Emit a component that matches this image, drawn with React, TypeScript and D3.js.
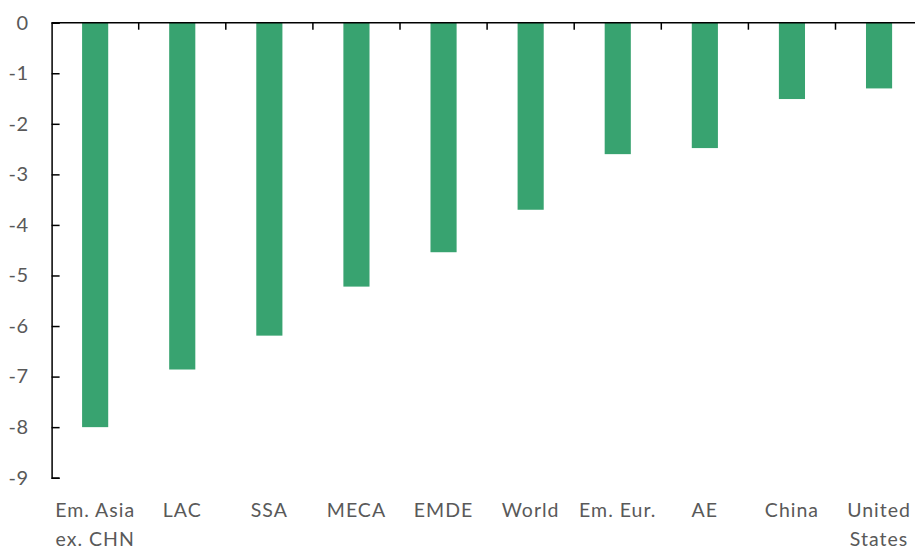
import * as d3 from "d3";
import { useEffect, useRef } from "react";

const categories = ["Em. Asia ex. CHN", "LAC", "SSA", "MECA", "EMDE", "World", "Em. Eur.", "AE", "China", "United States"];
const labelLines = [["Em. Asia", "ex. CHN"], ["LAC"], ["SSA"], ["MECA"], ["EMDE"], ["World"], ["Em. Eur."], ["AE"], ["China"], ["United", "States"]];
const values = [-8.0, -6.86, -6.19, -5.22, -4.54, -3.7, -2.6, -2.48, -1.51, -1.3];
const yTicks = [0, -1, -2, -3, -4, -5, -6, -7, -8, -9];

const width = 915;
const height = 548;
const font = "Lato, 'Open Sans', sans-serif";

export default function App() {
  const svgRef = useRef<SVGSVGElement>(null);

  useEffect(() => {
    document.body.style.margin = "0";
    if (!svgRef.current) return;
    const svg = d3.select(svgRef.current);
    svg.selectAll("*").remove();

    const x = d3.scaleBand()
      .domain(categories)
      .range([51.6, 922.6])
      .paddingInner(0.7)
      .paddingOuter(0.35);

    const y = d3.scaleLinear()
      .domain([0, -9])
      .range([22.7, 477.7]);

    // bars
    svg.append("g")
      .selectAll("rect")
      .data(values)
      .enter()
      .append("rect")
      .attr("x", (_, i) => x(categories[i])!)
      .attr("y", y(0))
      .attr("width", x.bandwidth())
      .attr("height", (d) => y(d) - y(0))
      .attr("fill", "#38a370");

    // y axis, ticks pointing into the plot
    const yAxis = svg.append("g")
      .attr("transform", `translate(${x.range()[0]},0)`)
      .call(d3.axisLeft(y).tickValues(yTicks).tickSize(-8).tickPadding(23).tickFormat((d) => String(d)));
    yAxis.select(".domain").attr("stroke", "#000").attr("stroke-width", 1.5);
    yAxis.selectAll(".tick line").attr("stroke", "#000").attr("stroke-width", 1.5);
    yAxis.selectAll(".tick text")
      .attr("fill", "#595959")
      .style("font-family", font)
      .style("font-size", "20px")
      .style("letter-spacing", "0.5px");

    // x axis at zero with boundary ticks
    const step = x.step();
    const x0 = x.range()[0];
    const bounds = d3.range(categories.length + 1).map((i) => x0 + i * step);
    const xAxis = svg.append("g");
    xAxis.append("line")
      .attr("x1", x0)
      .attr("x2", x.range()[1])
      .attr("y1", y(0))
      .attr("y2", y(0))
      .attr("stroke", "#000")
      .attr("stroke-width", 1.5);
    xAxis.selectAll(".bt")
      .data(bounds.slice(1))
      .enter()
      .append("line")
      .attr("x1", (d) => d)
      .attr("x2", (d) => d)
      .attr("y1", y(0))
      .attr("y2", y(0) + 7)
      .attr("stroke", "#000")
      .attr("stroke-width", 1.5);

    // category labels
    const labels = svg.append("g")
      .selectAll("text")
      .data(categories)
      .enter()
      .append("text")
      .attr("x", (d) => x(d)! + x.bandwidth() / 2)
      .attr("y", 517)
      .attr("text-anchor", "middle")
      .attr("fill", "#595959")
      .style("font-family", font)
      .style("font-size", "19.5px")
      .style("letter-spacing", "1px");
    labels.each(function (_, i) {
      const t = d3.select(this);
      labelLines[i].forEach((line, j) => {
        t.append("tspan")
          .attr("x", t.attr("x"))
          .attr("dy", j === 0 ? 0 : 28.5)
          .text(line);
      });
    });
  }, []);

  return <svg ref={svgRef} width={width} height={height} style={{ display: "block" }} />;
}
